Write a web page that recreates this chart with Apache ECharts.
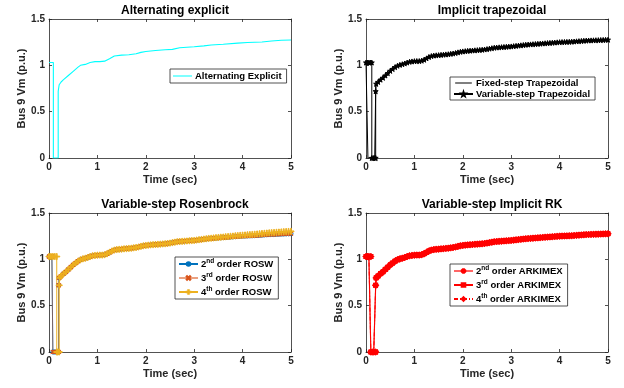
<!DOCTYPE html>
<html>
<head>
<meta charset="utf-8">
<script src="https://cdn.jsdelivr.net/npm/echarts@6/dist/echarts.min.js"></script>
<style>html,body{margin:0;padding:0;background:#fff;}#c{width:624px;height:388px;}</style>
</head>
<body>
<div id="c"></div>
<script>
// ---------- data ----------
const panelTitles = ['Alternating explicit', 'Implicit trapezoidal', 'Variable-step Rosenbrock', 'Variable-step Implicit RK'];
const xTicks = [0, 1, 2, 3, 4, 5];
const yTicks = [0, 0.5, 1, 1.5];

// Alternating explicit (panel 1)
const altT = [0, 0.09, 0.09, 0.19, 0.19, 0.21, 0.25, 0.3, 0.4, 0.5, 0.6, 0.65, 0.75, 0.85, 0.95, 1.05, 1.15, 1.25, 1.35, 1.5, 1.65, 1.8, 1.9, 2.0, 2.2, 2.4, 2.55, 2.7, 3.0, 3.2, 3.35, 3.6, 3.9, 4.1, 4.4, 4.6, 4.8, 5.0];
const altV = [1.03, 1.03, 0, 0, 0.72, 0.79, 0.82, 0.845, 0.89, 0.935, 0.98, 1.0, 1.01, 1.03, 1.04, 1.04, 1.045, 1.07, 1.1, 1.11, 1.115, 1.125, 1.14, 1.15, 1.16, 1.168, 1.172, 1.19, 1.2, 1.21, 1.22, 1.228, 1.24, 1.247, 1.252, 1.262, 1.27, 1.274];

// Post-fault recovery curve shared by the variable-step solvers
const curveT = [0.25,0.3,0.35,0.4,0.45,0.5,0.55,0.6,0.65,0.7,0.75,0.8,0.85,0.9,0.95,1,1.05,1.1,1.15,1.2,1.25,1.3,1.35,1.4,1.45,1.5,1.55,1.6,1.65,1.7,1.75,1.8,1.85,1.9,1.95,2,2.05,2.1,2.15,2.2,2.25,2.3,2.35,2.4,2.45,2.5,2.55,2.6,2.65,2.7,2.75,2.8,2.85,2.9,2.95,3,3.05,3.1,3.15,3.2,3.25,3.3,3.35,3.4,3.45,3.5,3.55,3.6,3.65,3.7,3.75,3.8,3.85,3.9,3.95,4,4.05,4.1,4.15,4.2,4.25,4.3,4.35,4.4,4.45,4.5,4.55,4.6,4.65,4.7,4.75,4.8,4.85,4.9,4.95,5];
const curveV = [0.82,0.845,0.865,0.89,0.915,0.94,0.96,0.98,0.995,1.005,1.012,1.02,1.03,1.038,1.042,1.045,1.046,1.046,1.05,1.06,1.075,1.09,1.1,1.105,1.108,1.11,1.113,1.115,1.118,1.12,1.124,1.128,1.133,1.14,1.146,1.15,1.153,1.156,1.158,1.16,1.162,1.164,1.166,1.168,1.171,1.175,1.18,1.185,1.19,1.192,1.194,1.196,1.198,1.2,1.202,1.204,1.207,1.21,1.213,1.216,1.219,1.222,1.224,1.226,1.228,1.23,1.232,1.234,1.236,1.238,1.24,1.242,1.244,1.246,1.248,1.25,1.251,1.252,1.253,1.254,1.255,1.257,1.259,1.261,1.263,1.265,1.267,1.268,1.269,1.27,1.271,1.272,1.273,1.274,1.275,1.276];
const rosw4V = [0.82,0.845,0.865,0.89,0.915,0.94,0.96,0.98,0.995,1.005,1.012,1.02,1.03,1.038,1.042,1.045,1.046,1.046,1.05,1.06,1.075,1.09,1.1,1.105,1.108,1.11,1.113,1.115,1.118,1.12,1.124,1.128,1.133,1.14,1.146,1.15,1.153,1.156,1.158,1.16,1.162,1.164,1.166,1.168,1.171,1.175,1.18,1.185,1.19,1.192,1.194,1.196,1.198,1.2,1.202,1.204,1.208,1.212,1.215,1.219,1.222,1.226,1.228,1.231,1.234,1.236,1.239,1.241,1.244,1.246,1.249,1.251,1.254,1.256,1.259,1.261,1.263,1.265,1.267,1.269,1.271,1.274,1.276,1.279,1.281,1.284,1.286,1.288,1.29,1.292,1.294,1.296,1.298,1.3,1.301,1.302];

// Pre-fault / fault segments
const trapFixPreT = [0, 0.04, 0.04, 0.2, 0.2];
const trapFixPreV = [1.03, 1.03, 0, 0, 0.8];
const trapVarPreT = [0, 0.03, 0.06, 0.09, 0.12, 0.12, 0.15, 0.18, 0.2, 0.2, 0.21];
const trapVarPreV = [1.03, 1.03, 1.03, 1.03, 1.03, 0, 0, 0, 0, 0.72, 0.8];
const roswPreT = [0, 0.03, 0.06, 0.08, 0.08, 0.11, 0.14, 0.17, 0.2, 0.2, 0.21];
const roswPreV = [1.03, 1.03, 1.03, 1.03, 0, 0, 0, 0, 0, 0.72, 0.8];
const rosw4PreT = [0, 0.04, 0.08, 0.12, 0.16, 0.16, 0.18, 0.21, 0.21, 0.22];
const rosw4PreV = [1.03, 1.03, 1.03, 1.03, 1.03, 0, 0, 0, 0.72, 0.8];
const arkPreT = [0, 0.03, 0.06, 0.1, 0.1, 0.13, 0.16, 0.2, 0.2, 0.21];
const arkPreV = [1.03, 1.03, 1.03, 1.03, 0, 0, 0, 0, 0.72, 0.8];

// ---------- build ----------
const FONT = 'Liberation Sans, Arial, Helvetica, sans-serif';
const AX = '#262626';
function pairs(t, v) { return t.map((x, i) => [x, v[i]]); }
function withCurve(preT, preV, cv) { return pairs(preT.concat(curveT), preV.concat(cv || curveV)); }

const grids = [
  { left: 49, top: 19, width: 242, height: 139 },
  { left: 366, top: 19, width: 242, height: 139 },
  { left: 49, top: 213, width: 242, height: 139 },
  { left: 366, top: 213, width: 242, height: 139 }
];

const xAxis = [], yAxis = [];
const lineS = { color: AX, width: 0.8 };
grids.forEach((g, i) => {
  xAxis.push({
    gridIndex: i, type: 'value', min: xTicks[0], max: xTicks[xTicks.length - 1], interval: 1,
    axisLine: { show: true, onZero: false, lineStyle: lineS },
    axisTick: { show: true, inside: true, length: 3, lineStyle: lineS },
    axisLabel: { margin: 4, fontSize: 10, fontWeight: 'bold', color: AX, fontFamily: FONT },
    splitLine: { show: false },
    name: 'Time (sec)', nameLocation: 'middle', nameGap: 16,
    nameTextStyle: { fontSize: 11, fontWeight: 'bold', color: AX, fontFamily: FONT }
  });
  xAxis.push({
    gridIndex: i, type: 'value', position: 'top', min: 0, max: 5, interval: 1,
    axisLine: { show: true, onZero: false, lineStyle: lineS },
    axisTick: { show: true, inside: true, length: 3, lineStyle: lineS },
    axisLabel: { show: false }, splitLine: { show: false }
  });
  yAxis.push({
    gridIndex: i, type: 'value', min: yTicks[0], max: yTicks[yTicks.length - 1], interval: 0.5,
    axisLine: { show: true, onZero: false, lineStyle: lineS },
    axisTick: { show: true, inside: true, length: 3, lineStyle: lineS },
    axisLabel: { margin: 4, fontSize: 10, fontWeight: 'bold', color: AX, fontFamily: FONT, formatter: v => String(v) },
    splitLine: { show: false },
    name: 'Bus 9 Vm (p.u.)', nameLocation: 'middle', nameGap: 21,
    nameTextStyle: { fontSize: 11, fontWeight: 'bold', color: AX, fontFamily: FONT }
  });
  yAxis.push({
    gridIndex: i, type: 'value', position: 'right', min: 0, max: 1.5, interval: 0.5,
    axisLine: { show: true, onZero: false, lineStyle: lineS },
    axisTick: { show: true, inside: true, length: 3, lineStyle: lineS },
    axisLabel: { show: false }, splitLine: { show: false }
  });
});

const STAR = 'path://M0,-10L2.35,-3.24L9.51,-3.09L3.8,1.24L5.88,8.09L0,4L-5.88,8.09L-3.8,1.24L-9.51,-3.09L-2.35,-3.24Z';
const XMK = 'path://M-5,-4L-4,-5L0,-1L4,-5L5,-4L1,0L5,4L4,5L0,1L-4,5L-5,4L-1,0Z';
const PLUS = 'path://M-0.7,-5H0.7V-0.7H5V0.7H0.7V5H-0.7V0.7H-5V-0.7H-0.7Z';
const AST = 'path://M-0.8,-5H0.8V-0.8H5V0.8H0.8V5H-0.8V0.8H-5V-0.8H-0.8Z M-4,-2.9L-2.9,-4L0,-1.1L2.9,-4L4,-2.9L1.1,0L4,2.9L2.9,4L0,1.1L-2.9,4L-4,2.9L-1.1,0Z';
// thin line centred in a 20x6 box (tiny corner specks fix the box size)
const LINEICON = 'path://M0,0H0.05V0.05H0Z M0,2.5H20V3.5H0Z M19.95,5.95H20V6H19.95Z';

function ser(name, gi, data, color, extra) {
  return Object.assign({
    type: 'line', name: name, xAxisIndex: 2 * gi, yAxisIndex: 2 * gi, data: data,
    symbol: 'none', symbolSize: 5, showAllSymbol: true, animation: false,
    lineStyle: { color: color, width: 1 }, itemStyle: { color: color, borderColor: color, borderWidth: 1 },
    emphasis: { disabled: true }
  }, extra || {});
}

const series = [
  ser('Alternating Explicit', 0, pairs(altT, altV), '#00FFFF', { lineStyle: { color: '#00FFFF', width: 1.1 }, itemStyle: { color: '#00FFFF', borderWidth: 0 } }),
  ser('Fixed-step Trapezoidal', 1, withCurve(trapFixPreT, trapFixPreV), '#000', { itemStyle: { color: '#000', borderWidth: 0 } }),
  ser('Variable-step Trapezoidal', 1, withCurve(trapVarPreT, trapVarPreV), '#000', { symbol: STAR, symbolSize: 5 }),
  ser('2nd order ROSW', 2, withCurve(roswPreT, roswPreV), '#0072BD', { symbol: 'circle', symbolSize: 4, itemStyle: { color: 'rgba(255,255,255,0)', borderColor: '#0072BD', borderWidth: 1 } }),
  ser('3rd order ROSW', 2, withCurve(roswPreT, roswPreV), '#D95319', { symbol: XMK, symbolSize: 4, lineStyle: { color: '#D95319', width: 1, opacity: 0.55 } }),
  ser('4th order ROSW', 2, withCurve(rosw4PreT, rosw4PreV, rosw4V), '#EDB120', { symbol: PLUS, symbolSize: 6 }),
  ser('2nd order ARKIMEX', 3, withCurve(arkPreT, arkPreV), '#FF0000', { z: 5, symbol: AST, symbolSize: 6, lineStyle: { color: '#FF0000', width: 1.2, opacity: 0.6 } }),
  ser('3rd order ARKIMEX', 3, withCurve(arkPreT, arkPreV), '#FF0000', { z: 4, symbol: 'rect', symbolSize: 4 }),
  ser('4th order ARKIMEX', 3, withCurve(arkPreT, arkPreV), '#FF0000', { z: 3, symbol: 'diamond', symbolSize: 5, lineStyle: { color: '#FF0000', width: 1, type: [4, 2, 1, 2] }, itemStyle: { color: 'rgba(255,255,255,0)', borderColor: '#FF0000', borderWidth: 1 } })
];

function legend(items, left, top, lh, gap, ih) {
  return {
    data: items, left: left, top: top, orient: 'vertical', selectedMode: false,
    backgroundColor: '#fff', borderColor: AX, borderWidth: 0.8, borderRadius: 0,
    padding: [1, 5, 1, 3], itemGap: gap, itemWidth: 19, itemHeight: ih,
    formatter: n => n.replace(/^(\d)(st|nd|rd|th)/, '$1{sup|$2}'),
    textStyle: {
      fontSize: 9.5, fontWeight: 'bold', color: '#000', fontFamily: FONT, lineHeight: lh, padding: [0, 0, 0, -2],
      rich: { sup: { fontSize: 6.5, fontWeight: 'bold', color: '#000', fontFamily: FONT, verticalAlign: 'top', lineHeight: 8 } }
    }
  };
}

const option = {
  animation: false,
  backgroundColor: '#fff',
  title: panelTitles.map((t, i) => ({
    text: t, left: grids[i].left + grids[i].width / 2, top: grids[i].top - 19, textAlign: 'center',
    textStyle: { fontSize: 12, fontWeight: 'bold', color: '#000', fontFamily: FONT }
  })),
  grid: grids,
  xAxis: xAxis,
  yAxis: yAxis,
  legend: [
    legend([{ name: 'Alternating Explicit', icon: LINEICON, itemStyle: { borderWidth: 0 } }], 170, 69, 12, 2, 6),
    legend([{ name: 'Fixed-step Trapezoidal', icon: LINEICON, itemStyle: { borderWidth: 0 } }, 'Variable-step Trapezoidal'], 450, 77, 10, 1, 5),
    legend(['2nd order ROSW', '3rd order ROSW', '4th order ROSW'], 175, 257, 12, 2, 4.5),
    legend(['2nd order ARKIMEX', '3rd order ARKIMEX', '4th order ARKIMEX'], 450, 264, 12, 2, 4.5)
  ],
  series: series
};

const chart = echarts.init(document.getElementById('c'), null, { renderer: 'canvas' });
chart.setOption(option);
</script>
</body>
</html>
